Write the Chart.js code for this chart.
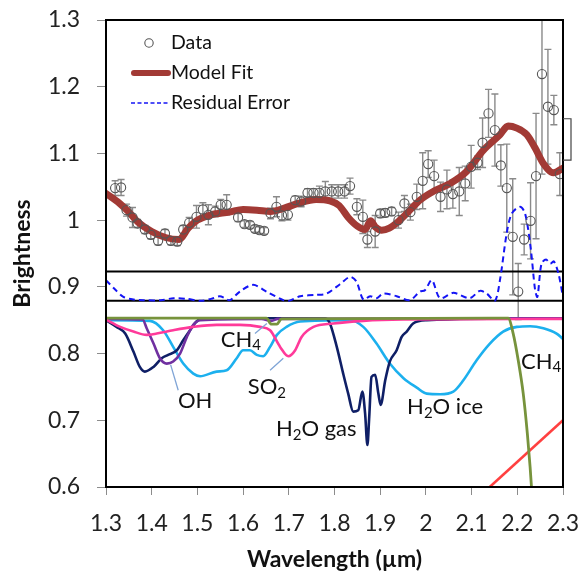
<!DOCTYPE html>
<html lang="en">
<head>
<meta charset="UTF-8">
<title>Brightness vs wavelength</title>
<script src="https://cdn.jsdelivr.net/npm/chart.js"></script>
<style>
  html, body { margin: 0; padding: 0; background: #fff; }
  #wrap { width: 582px; height: 573px; }
</style>
</head>
<body>
<div id="wrap"><canvas id="chart" width="582" height="573"></canvas></div>
<script>
// axis ticks
const xTicks = [1.3, 1.4, 1.5, 1.6, 1.7, 1.8, 1.9, 2.0, 2.1, 2.2, 2.3];
const yTicks = [0.6, 0.7, 0.8, 0.9, 1.0, 1.1, 1.2, 1.3];

// observed spectrum with error bars
const dataWave = [1.320, 1.333, 1.345, 1.358, 1.369, 1.385, 1.398, 1.414, 1.429, 1.442, 1.456, 1.469, 1.482, 1.498, 1.512, 1.524, 1.539, 1.551, 1.564,
  1.589, 1.603, 1.615, 1.626, 1.636, 1.646, 1.660, 1.673, 1.685, 1.698, 1.714, 1.727, 1.741, 1.754, 1.767, 1.780, 1.794, 1.808, 1.822, 1.834,
  1.849, 1.862, 1.872, 1.889, 1.900, 1.911, 1.925, 1.940, 1.953, 1.966, 1.980, 1.993, 2.005, 2.018, 2.032, 2.046, 2.059, 2.073, 2.086, 2.099,
  2.113, 2.124, 2.137, 2.151, 2.164, 2.177, 2.190, 2.202, 2.215, 2.229, 2.241, 2.254, 2.267, 2.280, 2.293];
const dataBright = [1.048, 1.049, 1.015, 1.004, 0.995, 0.986, 0.978, 0.969, 0.980, 0.969, 0.968, 0.986, 0.996, 1.005, 1.016, 1.008, 1.013, 1.023, 1.023,
  1.004, 0.994, 0.993, 0.987, 0.985, 0.984, 1.010, 1.020, 1.007, 1.008, 1.030, 1.028, 1.041, 1.041, 1.041, 1.043, 1.043, 1.043, 1.043, 1.051,
  1.020, 1.005, 0.971, 0.983, 1.010, 1.011, 1.013, 1.000, 1.025, 1.012, 1.035, 1.059, 1.084, 1.066, 1.035, 1.046, 1.039, 1.043, 1.055, 1.080,
  1.086, 1.116, 1.160, 1.135, 1.082, 1.048, 0.975, 0.893, 0.971, 0.999, 1.066, 1.219, 1.170, 1.165, 1.069];
const dataErr = [0.011, 0.012, 0.009, 0.015, 0.006, 0.006, 0.006, 0.006, 0.006, 0.006, 0.006, 0.006, 0.008, 0.017, 0.010, 0.015, 0.008, 0.008, 0.015,
  0.006, 0.005, 0.005, 0.005, 0.005, 0.005, 0.008, 0.015, 0.008, 0.008, 0.006, 0.008, 0.006, 0.006, 0.010, 0.015, 0.010, 0.010, 0.010, 0.012,
  0.012, 0.025, 0.012, 0.024, 0.006, 0.006, 0.006, 0.012, 0.012, 0.012, 0.019, 0.042, 0.020, 0.024, 0.022, 0.029, 0.021, 0.036, 0.026, 0.032,
  0.010, 0.037, 0.036, 0.054, 0.031, 0.066, 0.087, 0.042, 0.023, 0.057, 0.094, 0.150, 0.086, 0.022, 0.032];

// model fit
const fitWave = [1.30, 1.33, 1.35, 1.37, 1.40, 1.43, 1.46, 1.48, 1.50, 1.53, 1.57, 1.60, 1.63, 1.66, 1.69, 1.72, 1.76, 1.79, 1.81, 1.83, 1.85,
  1.867, 1.879, 1.889, 1.903, 1.92, 1.943, 1.965, 1.987, 2.016, 2.053, 2.089, 2.126, 2.162, 2.180, 2.199, 2.221, 2.239, 2.257, 2.279, 2.300];
const fitBright = [1.040, 1.025, 1.012, 0.997, 0.983, 0.974, 0.971, 0.988, 1.000, 1.008, 1.012, 1.016, 1.015, 1.013, 1.018, 1.025, 1.031, 1.029, 1.022, 1.004, 0.991,
  0.986, 0.999, 0.990, 0.985, 0.988, 1.000, 1.015, 1.030, 1.043, 1.055, 1.073, 1.105, 1.128, 1.141, 1.138, 1.128, 1.108, 1.085, 1.071, 1.078];

// residual error (offset)
const resWave = [1.300, 1.320, 1.338, 1.360, 1.382, 1.420, 1.448, 1.477, 1.506, 1.530, 1.549, 1.560, 1.571, 1.593, 1.622, 1.651, 1.688, 1.700, 1.725,
  1.760, 1.783, 1.812, 1.834, 1.848, 1.863, 1.878, 1.892, 1.907, 1.936, 1.965, 1.987, 1.998, 2.013, 2.031, 2.060, 2.096, 2.118, 2.133, 2.151,
  2.162, 2.177, 2.188, 2.206, 2.217, 2.229, 2.239, 2.244, 2.253, 2.263, 2.272, 2.280, 2.290, 2.300];
const resBright = [0.910, 0.896, 0.885, 0.881, 0.880, 0.880, 0.883, 0.882, 0.879, 0.882, 0.886, 0.883, 0.880, 0.893, 0.903, 0.893, 0.880, 0.879, 0.886,
  0.888, 0.890, 0.904, 0.915, 0.908, 0.881, 0.886, 0.883, 0.890, 0.886, 0.880, 0.893, 0.895, 0.910, 0.883, 0.891, 0.883, 0.894, 0.890, 0.879,
  0.910, 0.981, 1.010, 1.020, 1.010, 0.960, 0.895, 0.885, 0.935, 0.941, 0.935, 0.938, 0.920, 0.885];

// separator lines around the residual strip
const separatorLevels = [0.923, 0.879];

// component spectra
const h2oGasWave = [1.300, 1.323, 1.342, 1.360, 1.374, 1.385, 1.404, 1.422, 1.436, 1.455, 1.469, 1.484, 1.498, 1.513, 1.780, 1.790, 1.805, 1.819,
  1.830, 1.841, 1.852, 1.861, 1.867, 1.872, 1.876, 1.881, 1.889, 1.896, 1.901, 1.911, 1.921, 1.936, 1.947, 1.958, 1.972, 2.002, 2.300];
const h2oGasBright = [0.850, 0.840, 0.830, 0.803, 0.780, 0.773, 0.780, 0.793, 0.798, 0.805, 0.820, 0.835, 0.848, 0.853, 0.853, 0.845, 0.810, 0.770,
  0.740, 0.713, 0.715, 0.743, 0.710, 0.663, 0.705, 0.765, 0.768, 0.740, 0.723, 0.760, 0.788, 0.805, 0.825, 0.833, 0.845, 0.850, 0.853];

const h2oIceWave = [1.300, 1.396, 1.425, 1.447, 1.469, 1.491, 1.506, 1.542, 1.564, 1.586, 1.600, 1.615, 1.630, 1.644, 1.659, 1.674, 1.695, 1.725,
  1.834, 1.863, 1.892, 1.921, 1.951, 1.980, 2.002, 2.031, 2.060, 2.082, 2.111, 2.140, 2.169, 2.199, 2.228, 2.257, 2.286, 2.300];
const h2oIceBright = [0.850, 0.849, 0.835, 0.810, 0.785, 0.770, 0.766, 0.773, 0.775, 0.793, 0.805, 0.805, 0.798, 0.796, 0.810, 0.828, 0.840, 0.848,
  0.850, 0.840, 0.815, 0.785, 0.763, 0.749, 0.740, 0.739, 0.743, 0.760, 0.790, 0.815, 0.833, 0.840, 0.841, 0.838, 0.830, 0.822];

const ohWave = [1.300, 1.380, 1.389, 1.404, 1.418, 1.433, 1.447, 1.462, 1.477, 1.491, 1.506, 1.640, 1.662, 1.676, 2.300];
const ohBright = [0.852, 0.851, 0.838, 0.815, 0.793, 0.785, 0.788, 0.800, 0.825, 0.843, 0.850, 0.852, 0.849, 0.852, 0.853];

const so2Wave = [1.300, 1.331, 1.360, 1.389, 1.411, 1.447, 1.491, 1.542, 1.593, 1.637, 1.659, 1.681, 1.699, 1.714, 1.728, 1.754, 1.797, 1.863, 1.950, 2.300];
const so2Bright = [0.851, 0.840, 0.833, 0.828, 0.830, 0.835, 0.840, 0.843, 0.843, 0.840, 0.835, 0.810, 0.796, 0.805, 0.825, 0.840, 0.845, 0.849, 0.851, 0.852];

const ch4Wave = [1.300, 1.651, 1.662, 1.674, 1.684, 2.180, 2.191, 2.202, 2.213, 2.222, 2.228, 2.232];
const ch4Bright = [0.853, 0.853, 0.844, 0.844, 0.852, 0.853, 0.830, 0.790, 0.740, 0.680, 0.630, 0.590];

const slopeWave = [2.130, 2.300];
const slopeBright = [0.594, 0.700];

// leader lines from labels to features
const leaders = [
  { wave: [1.626, 1.652], bright: [0.830, 0.845] },  // CH4
  { wave: [1.659, 1.688], bright: [0.775, 0.793] },  // SO2
  { wave: [1.4415, 1.458], bright: [0.783, 0.745] }  // OH
];

// feature labels: [text, subscript?]
const featureLabels = [
  { parts: [['OH', 0]], wave: 1.495, bright: 0.729 },
  { parts: [['CH', 0], ['4', 1]], wave: 1.595, bright: 0.821 },
  { parts: [['SO', 0], ['2', 1]], wave: 1.652, bright: 0.750 },
  { parts: [['H', 0], ['2', 1], ['O gas', 0]], wave: 1.760, bright: 0.687 },
  { parts: [['H', 0], ['2', 1], ['O ice', 0]], wave: 2.042, bright: 0.720 },
  { parts: [['CH', 0], ['4', 1]], wave: 2.252, bright: 0.788 }
];

// typical-error bracket drawn just outside the right edge
const errorBracket = [1.090, 1.152];

const pts = (xs, ys) => xs.map((x, i) => ({ x: x, y: ys[i] }));

const FONT = 'Lato, "Open Sans", sans-serif';
const fitColor = '#A23A35';
const resColor = '#1414F5';

function compLine(label, xs, ys, color, width) {
  return {
    label: label,
    data: pts(xs, ys),
    borderColor: color,
    borderWidth: width || 2.6,
    pointRadius: 0,
    cubicInterpolationMode: 'monotone',
    fill: false
  };
}

const datasets = [
  {
    label: 'Data',
    data: pts(dataWave, dataBright),
    showLine: false,
    pointRadius: 4.6,
    pointBorderWidth: 1.1,
    pointBorderColor: '#555',
    pointBackgroundColor: 'rgba(0,0,0,0)'
  },
  {
    label: 'Model Fit',
    data: pts(fitWave, fitBright),
    borderColor: fitColor,
    borderWidth: 7,
    pointRadius: 0,
    cubicInterpolationMode: 'monotone',
    borderCapStyle: 'round',
    borderJoinStyle: 'round'
  },
  {
    label: 'Residual Error',
    data: pts(resWave, resBright),
    borderColor: resColor,
    borderWidth: 2,
    borderDash: [6, 4],
    pointRadius: 0,
    tension: 0.3
  },
  compLine('sep1', [1.3, 2.3], [separatorLevels[0], separatorLevels[0]], '#000', 2),
  compLine('sep2', [1.3, 2.3], [separatorLevels[1], separatorLevels[1]], '#000', 2),
  compLine('lead1', leaders[0].wave, leaders[0].bright, '#7FA4D6', 1.3),
  compLine('lead2', leaders[1].wave, leaders[1].bright, '#7FA4D6', 1.3),
  compLine('lead3', leaders[2].wave, leaders[2].bright, '#7FA4D6', 1.3),
  compLine('CH4', ch4Wave, ch4Bright, '#77933C', 2.8),
  compLine('SO2', so2Wave, so2Bright, '#FF3A9A'),
  compLine('OH', ohWave, ohBright, '#7030A0'),
  compLine('H2O gas', h2oGasWave, h2oGasBright, '#0F1F66'),
  compLine('H2O ice', h2oIceWave, h2oIceBright, '#1CB0EE'),
  compLine('slope', slopeWave, slopeBright, '#FF4040')
];

function drawRich(ctx, parts, cx, cy) {
  const big = '22px ' + FONT, small = '15px ' + FONT;
  let w = 0;
  parts.forEach(([t, sub]) => { ctx.font = sub ? small : big; w += ctx.measureText(t).width; });
  let x = cx - w / 2;
  parts.forEach(([t, sub]) => {
    ctx.font = sub ? small : big;
    ctx.fillText(t, x, sub ? cy + 6 : cy);
    x += ctx.measureText(t).width;
  });
}

const extrasPlugin = {
  id: 'extras',
  beforeDatasetsDraw(chart) {
    // error bars under the markers
    const { ctx, chartArea: a, scales: { x, y } } = chart;
    ctx.save();
    ctx.beginPath();
    ctx.rect(a.left, a.top, a.right - a.left, a.bottom - a.top);
    ctx.clip();
    ctx.strokeStyle = '#8A8A8A';
    ctx.lineWidth = 1.4;
    dataWave.forEach((w, i) => {
      const px = x.getPixelForValue(w);
      const top = y.getPixelForValue(dataBright[i] + dataErr[i]);
      const bot = y.getPixelForValue(dataBright[i] - dataErr[i]);
      ctx.beginPath();
      ctx.moveTo(px, top); ctx.lineTo(px, bot);
      ctx.moveTo(px - 3.5, top); ctx.lineTo(px + 3.5, top);
      ctx.moveTo(px - 3.5, bot); ctx.lineTo(px + 3.5, bot);
      ctx.stroke();
    });
    ctx.restore();
  },
  afterDraw(chart) {
    const { ctx, chartArea: a, scales: { x, y } } = chart;
    ctx.save();

    // frame
    ctx.strokeStyle = '#000';
    ctx.lineWidth = 2;
    ctx.strokeRect(a.left, a.top, a.right - a.left, a.bottom - a.top);

    // bracket outside right edge
    const b1 = y.getPixelForValue(errorBracket[1]);
    const b2 = y.getPixelForValue(errorBracket[0]);
    ctx.strokeStyle = '#444';
    ctx.lineWidth = 1.2;
    ctx.beginPath();
    ctx.moveTo(a.right, b1); ctx.lineTo(a.right + 8, b1);
    ctx.lineTo(a.right + 8, b2); ctx.lineTo(a.right, b2);
    ctx.stroke();

    // feature labels
    ctx.fillStyle = '#111';
    ctx.textBaseline = 'middle';
    ctx.textAlign = 'left';
    featureLabels.forEach(l => drawRich(ctx, l.parts, x.getPixelForValue(l.wave), y.getPixelForValue(l.bright)));

    // legend
    const lx = a.left, ly = a.top;
    ctx.font = '19.5px ' + FONT;
    ctx.fillStyle = '#111';
    ctx.fillText('Data', lx + 65, ly + 23);
    ctx.fillText('Model Fit', lx + 65, ly + 53);
    ctx.fillText('Residual Error', lx + 65, ly + 83);

    ctx.strokeStyle = '#555';
    ctx.lineWidth = 1.1;
    ctx.beginPath();
    ctx.arc(lx + 43, ly + 23, 4.2, 0, Math.PI * 2);
    ctx.stroke();

    ctx.strokeStyle = fitColor;
    ctx.lineWidth = 6;
    ctx.lineCap = 'round';
    ctx.beginPath();
    ctx.moveTo(lx + 28, ly + 53); ctx.lineTo(lx + 62, ly + 53);
    ctx.stroke();

    ctx.strokeStyle = resColor;
    ctx.lineWidth = 1.6;
    ctx.lineCap = 'butt';
    ctx.setLineDash([4, 2.5]);
    ctx.beginPath();
    ctx.moveTo(lx + 25, ly + 83); ctx.lineTo(lx + 62, ly + 83);
    ctx.stroke();
    ctx.restore();
  }
};

const fmt = v => String(+(+v).toFixed(1));

new Chart(document.getElementById('chart'), {
  type: 'line',
  data: { datasets: datasets },
  plugins: [extrasPlugin],
  options: {
    responsive: false,
    animation: false,
    layout: { padding: { left: 0, top: 20, right: 19, bottom: 0 } },
    plugins: { legend: { display: false }, tooltip: { enabled: false } },
    scales: {
      x: {
        type: 'linear',
        min: 1.3,
        max: 2.3,
        afterBuildTicks: s => { s.ticks = xTicks.map(v => ({ value: v })); },
        afterFit: s => { s.height = 86; s.paddingLeft = 0; s.paddingRight = 0; },
        ticks: { callback: fmt, color: '#222', font: { family: FONT, size: 23 }, padding: 15, maxRotation: 0, autoSkip: false },
        grid: { display: true, drawOnChartArea: false, drawTicks: true, tickLength: 8, tickColor: '#8C8C8C', tickWidth: 1 },
        border: { display: false },
        title: { display: true, text: 'Wavelength (\u00b5m)', color: '#111', font: { family: FONT, size: 23, weight: 'bold' }, padding: { top: 0, bottom: 0 } }
      },
      y: {
        type: 'linear',
        min: 0.6,
        max: 1.3,
        afterBuildTicks: s => { s.ticks = yTicks.map(v => ({ value: v })); },
        afterFit: s => { s.width = 106; s.paddingTop = 0; s.paddingBottom = 0; },
        ticks: { callback: fmt, color: '#222', font: { family: FONT, size: 23 }, padding: 17 },
        grid: { display: true, drawOnChartArea: false, drawTicks: true, tickLength: 9, tickColor: '#8C8C8C', tickWidth: 1 },
        border: { display: false },
        title: { display: true, text: 'Brightness', color: '#111', font: { family: FONT, size: 23, weight: 'bold' }, padding: { top: 9, bottom: 0 } }
      }
    }
  }
});
</script>
</body>
</html>
